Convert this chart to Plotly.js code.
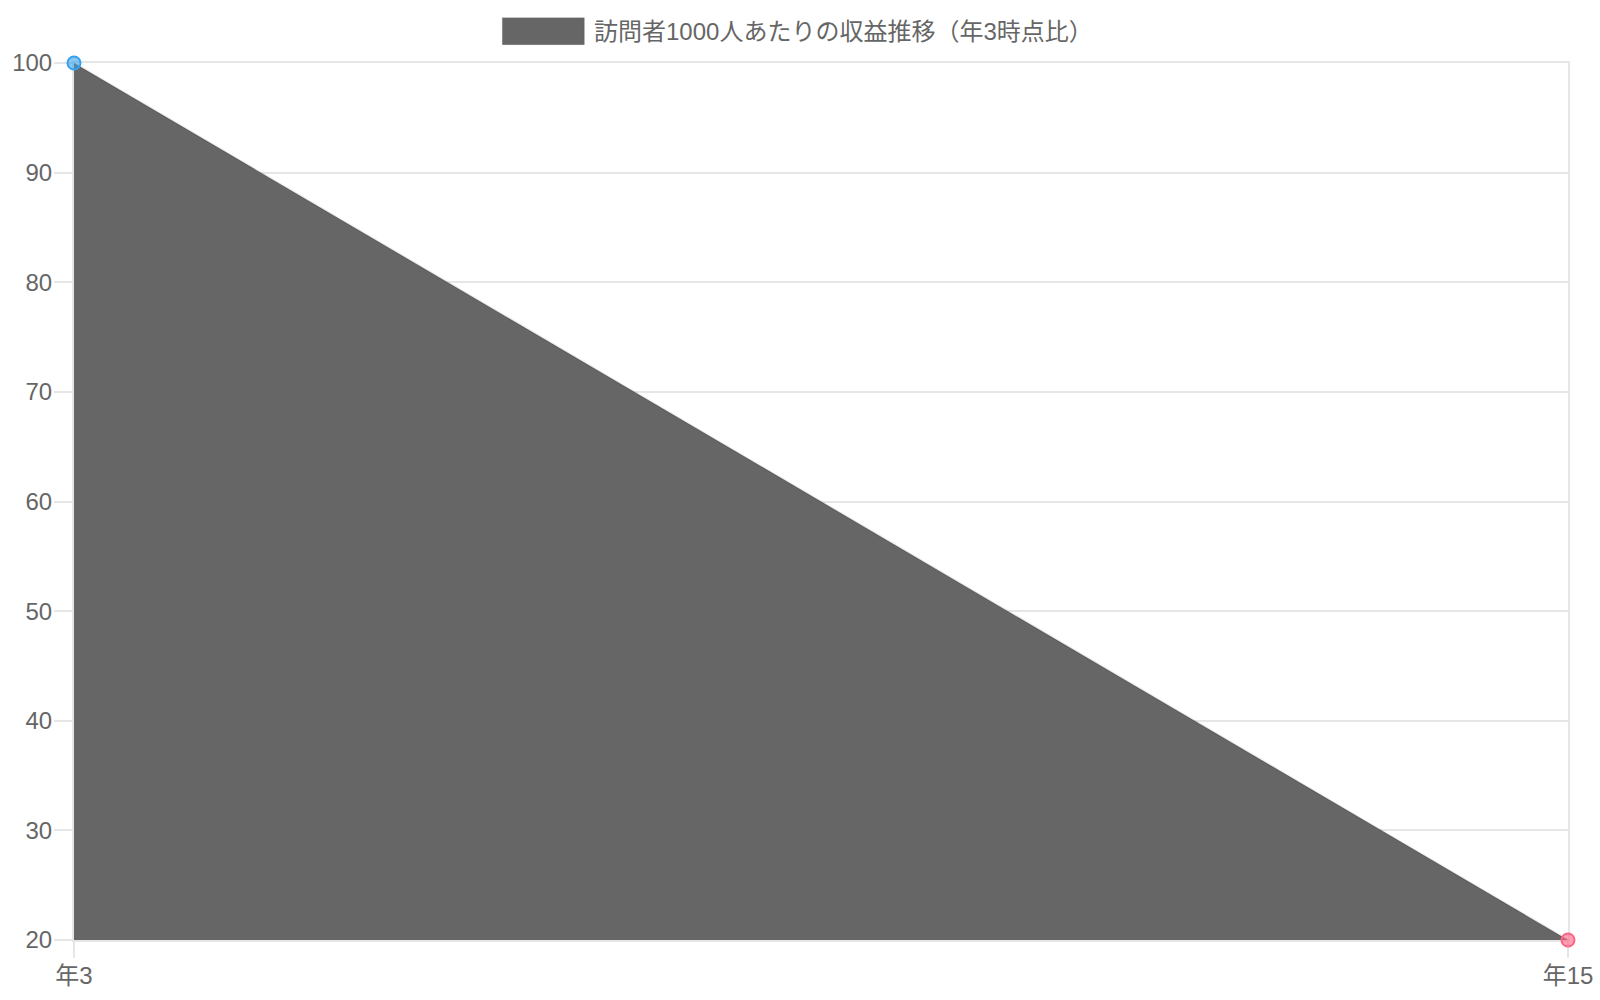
<!DOCTYPE html>
<html>
<head>
<meta charset="utf-8">
<script src="https://cdn.plot.ly/plotly-3.0.1.min.js"></script>
<style>
  html, body { margin: 0; padding: 0; background: #fff; }
  #chart { width: 1600px; height: 1000px; }
</style>
</head>
<body>
<div id="chart"></div>
<script>
// chart data
const labels = ['年3', '年15'];
const values = [100, 20];
const seriesName = '訪問者1000人あたりの収益推移（年3時点比）';
const yTickValues = [20, 30, 40, 50, 60, 70, 80, 90, 100];

const FONT = '"Liberation Sans", "Noto Sans CJK JP", sans-serif';
const GRID = '#e6e6e6';

const trace = {
  x: labels,
  y: values,
  type: 'scatter',
  mode: 'lines+markers',
  fill: 'tozeroy',
  fillcolor: '#666666',
  line: { color: 'rgba(0,0,0,0.1)', width: 2 },
  marker: {
    size: 13,
    color: ['rgba(54,162,235,0.6)', 'rgba(255,99,132,0.6)'],
    line: { color: ['rgb(54,162,235)', 'rgb(255,99,132)'], width: 2 }
  },
  cliponaxis: false,
  name: seriesName,
  hoverinfo: 'x+y'
};

const layout = {
  width: 1600,
  height: 1000,
  margin: { l: 74, r: 32, t: 63, b: 60 },
  paper_bgcolor: '#fff',
  plot_bgcolor: '#fff',
  showlegend: false,
  font: { family: FONT, size: 24, color: '#666' },
  xaxis: {
    type: 'category',
    range: [0, 1],
    layer: 'below traces',
    showgrid: true,
    gridcolor: GRID,
    gridwidth: 2,
    zeroline: false,
    showline: true,
    mirror: true,
    linecolor: GRID,
    linewidth: 2,
    ticks: 'outside',
    ticklen: 16,
    tickwidth: 2,
    tickcolor: GRID,
    ticklabelstandoff: -3,
    tickfont: { family: FONT, size: 24, color: '#666' }
  },
  yaxis: {
    range: [20, 100],
    tickvals: yTickValues,
    layer: 'below traces',
    showgrid: true,
    gridcolor: GRID,
    gridwidth: 2,
    zeroline: false,
    showline: true,
    mirror: true,
    linecolor: GRID,
    linewidth: 2,
    ticks: 'outside',
    ticklen: 18,
    tickwidth: 2,
    tickcolor: GRID,
    ticklabelstandoff: -3,
    tickfont: { family: FONT, size: 24, color: '#666' }
  },
  // legend drawn by hand to look like the original box + label
  shapes: [{
    type: 'rect',
    xref: 'paper', yref: 'paper',
    x0: 0.2867, x1: 0.3416,
    y0: 1.0209, y1: 1.0517,
    fillcolor: '#666666',
    line: { color: 'rgba(0,0,0,0.1)', width: 1 }
  }],
  annotations: [{
    xref: 'paper', yref: 'paper',
    x: 0.347, y: 1.0363,
    xanchor: 'left', yanchor: 'middle',
    text: seriesName,
    showarrow: false,
    font: { family: FONT, size: 24, color: '#666' }
  }]
};

Plotly.newPlot('chart', [trace], layout, { displayModeBar: false, responsive: false });
</script>
</body>
</html>
